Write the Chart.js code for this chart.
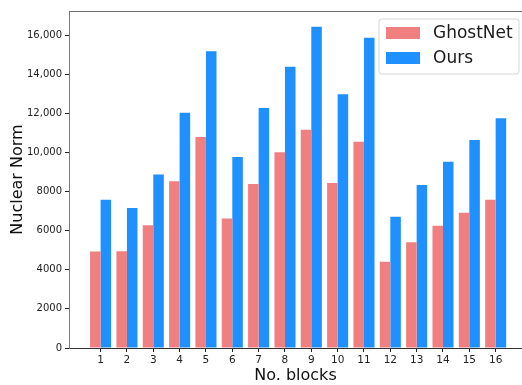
<!DOCTYPE html>
<html>
<head>
<meta charset="utf-8">
<script src="https://cdn.jsdelivr.net/npm/chart.js@4/dist/chart.umd.min.js"></script>
<style>
  html, body { margin: 0; padding: 0; background: #fff; }
  #wrap { width: 522px; height: 385px; position: relative; }
</style>
</head>
<body>
<div id="wrap"><canvas id="c" width="522" height="385"></canvas></div>
<script>
// Block indices on the x axis
const blocks = [1, 2, 3, 4, 5, 6, 7, 8, 9, 10, 11, 12, 13, 14, 15, 16];
// Nuclear norm per block
const ghostnet = [4930, 4950, 6280, 8530, 10790, 6620, 8380, 10010, 11160, 8430, 10540, 4410, 5410, 6250, 6920, 7580];
const ours     = [7580, 7160, 8870, 12030, 15170, 9760, 12270, 14380, 16420, 12970, 15860, 6710, 8340, 9520, 10640, 11750];
// Y tick values
const yTicks = [0, 2000, 4000, 6000, 8000, 10000, 12000, 14000, 16000];

const FONT = "'DejaVu Sans', sans-serif";

function fmtY(v) {
  return v >= 10000 ? v.toLocaleString('en-US') : String(v);
}

// Top spine and a boxed legend in the upper-right corner
const framePlugin = {
  id: 'frame',
  afterDraw(chart) {
    const { ctx, chartArea: a } = chart;
    ctx.save();
    ctx.strokeStyle = '#6f6f6f';
    ctx.lineWidth = 1;
    ctx.beginPath();
    ctx.moveTo(a.left, a.top + 0.5);
    ctx.lineTo(a.right, a.top + 0.5);
    ctx.stroke();

    // legend box
    const bx = 379, by = 19, bw = 140, bh = 55, r = 3;
    ctx.fillStyle = 'rgba(255,255,255,0.8)';
    ctx.strokeStyle = '#d6d6d6';
    ctx.beginPath();
    ctx.moveTo(bx + r, by);
    ctx.lineTo(bx + bw - r, by);
    ctx.arcTo(bx + bw, by, bx + bw, by + r, r);
    ctx.lineTo(bx + bw, by + bh - r);
    ctx.arcTo(bx + bw, by + bh, bx + bw - r, by + bh, r);
    ctx.lineTo(bx + r, by + bh);
    ctx.arcTo(bx, by + bh, bx, by + bh - r, r);
    ctx.lineTo(bx, by + r);
    ctx.arcTo(bx, by, bx + r, by, r);
    ctx.closePath();
    ctx.fill();
    ctx.stroke();

    ctx.font = '17px ' + FONT;
    ctx.textBaseline = 'middle';
    ctx.textAlign = 'left';
    chart.data.datasets.forEach((ds, i) => {
      const cy = by + 14 + i * 25;
      ctx.fillStyle = ds.backgroundColor;
      ctx.fillRect(bx + 7, cy - 6, 34, 12);
      ctx.fillStyle = '#1a1a1a';
      ctx.fillText(ds.label, bx + 54, cy + 1);
    });
    ctx.restore();
  }
};

new Chart(document.getElementById('c'), {
  type: 'bar',
  data: {
    datasets: [
      {
        label: 'GhostNet',
        data: blocks.map((b, i) => ({ x: b, y: ghostnet[i] })),
        backgroundColor: '#F08080',
        categoryPercentage: 0.8,
        barPercentage: 1.0
      },
      {
        label: 'Ours',
        data: blocks.map((b, i) => ({ x: b, y: ours[i] })),
        backgroundColor: '#1E90FF',
        categoryPercentage: 0.8,
        barPercentage: 1.0
      }
    ]
  },
  options: {
    responsive: false,
    animation: false,
    layout: { padding: { top: 11, right: 0, left: 0, bottom: 0 } },
    plugins: {
      legend: { display: false },
      tooltip: { enabled: false }
    },
    scales: {
      x: {
        type: 'linear',
        offset: false,
        min: -0.2,
        max: 17,
        afterBuildTicks: s => { s.ticks = blocks.map(v => ({ value: v })); },
        afterFit: s => { s.height = 37; },
        grid: { offset: false, drawOnChartArea: false, drawTicks: true, tickLength: 4, tickColor: '#222' },
        border: { color: '#333', width: 1 },
        ticks: { color: '#222', font: { family: FONT, size: 10.5 }, padding: 2, maxRotation: 0, autoSkip: false, callback: v => String(v) },
        title: { display: true, text: 'No. blocks', color: '#111', font: { family: FONT, size: 16 }, padding: { top: 0, bottom: 0 } }
      },
      y: {
        min: 0,
        max: 17230,
        afterBuildTicks: s => { s.ticks = yTicks.map(v => ({ value: v })); },
        afterFit: s => { s.width = 69; },
        grid: { drawOnChartArea: false, drawTicks: true, tickLength: 4, tickColor: '#222' },
        border: { color: '#7a7a7a', width: 1 },
        ticks: { color: '#222', font: { family: FONT, size: 10 }, padding: 3, callback: v => fmtY(v) },
        title: { display: true, text: 'Nuclear Norm', color: '#111', font: { family: FONT, size: 16 }, padding: { top: 8, bottom: 0 } }
      }
    }
  },
  plugins: [framePlugin]
});
</script>
</body>
</html>
